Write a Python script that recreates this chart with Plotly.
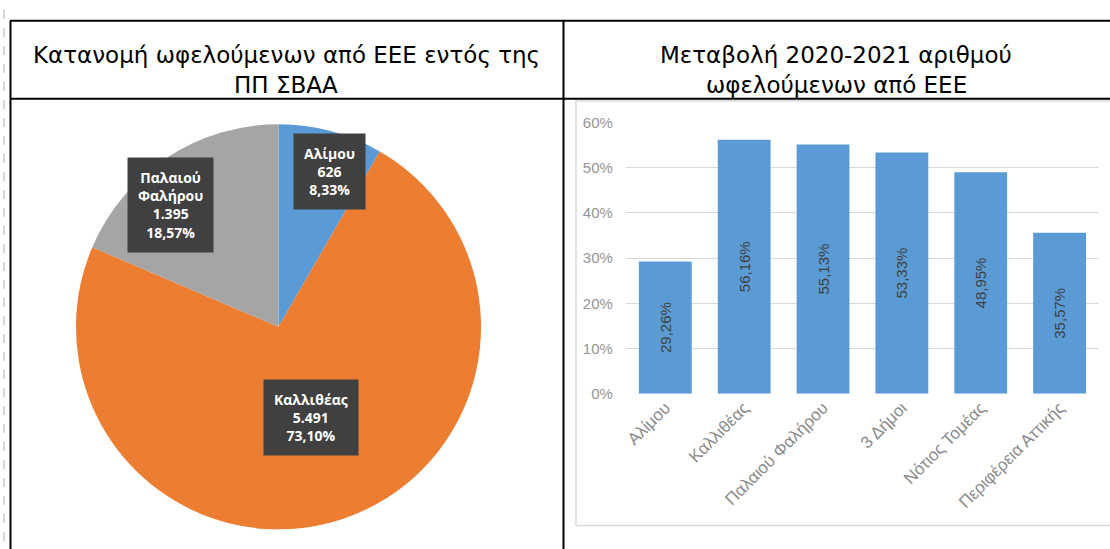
import plotly.graph_objects as go

W, H = 1110, 549

# ---- data ----
pie_labels = ["Αλίμου", "Καλλιθέας", "Παλαιού<br>Φαλήρου"]
pie_values = [626, 5491, 1395]
pie_colors = ["#5B9BD5", "#ED7D31", "#A5A5A5"]

bar_categories = ["Αλίμου", "Καλλιθέας", "Παλαιού Φαλήρου", "3 Δήμοι", "Νότιος Τομέας", "Περιφέρεια Αττικής"]
bar_values = [0.2926, 0.5616, 0.5513, 0.5333, 0.4895, 0.3557]

y_ticks = [0, 0.1, 0.2, 0.3, 0.4, 0.5, 0.6]

header_left = ["Κατανομή ωφελούμενων από ΕΕΕ εντός της", "ΠΠ ΣΒΑΑ"]
header_right = ["Μεταβολή 2020-2021 αριθμού", "ωφελούμενων από ΕΕΕ"]


def px(x):
    return x / W


def py(y):
    return 1 - y / H


fig = go.Figure()

# pie
fig.add_trace(go.Pie(
    labels=pie_labels, values=pie_values, sort=False, direction="clockwise", rotation=0,
    marker=dict(colors=pie_colors, line=dict(width=0)),
    textinfo="none", hoverinfo="label+value+percent", showlegend=False,
    domain=dict(x=[px(72), px(482)], y=[py(537), py(119)]),
))

# bars
fig.add_trace(go.Bar(
    x=bar_categories, y=bar_values, marker=dict(color="#5B9BD5", line=dict(width=0)),
    texttemplate="%{y:.2%}", textposition="inside", insidetextanchor="middle",
    textangle=-90, textfont=dict(color="#404040", size=15, family="Liberation Sans"),
    showlegend=False, width=0.67,
))

fig.update_layout(
    width=W, height=H, margin=dict(l=0, r=0, t=0, b=0),
    paper_bgcolor="white", plot_bgcolor="rgba(0,0,0,0)",
    separators=",.",
    xaxis=dict(domain=[px(625), px(1099)], range=[-0.5, 5.5], tickangle=-45,
               tickfont=dict(color="#8a8a8a", size=17, family="Liberation Sans"),
               showgrid=False, zeroline=False, showline=False, ticks=""),
    yaxis=dict(domain=[py(397), py(117)], range=[0, 0.6], tickvals=y_ticks, tickformat=".0%",
               tickfont=dict(color="#959595", size=15, family="Liberation Sans"),
               gridcolor="#d9d9d9", gridwidth=1, zeroline=False, showline=False, ticks="",
               ticklabelstandoff=12),
)

shapes = []
# page dashed margin line
shapes.append(dict(type="line", xref="paper", yref="paper", x0=px(2), x1=px(2), y0=0, y1=1,
                   line=dict(color="#b0b0b0", width=1, dash="dash")))
# bar chart frame
shapes.append(dict(type="rect", xref="paper", yref="paper", x0=px(575), x1=px(1115), y0=py(533), y1=py(95),
                   line=dict(color="#d9d9d9", width=1.5), layer="below"))
# table borders
for (x0, y0, x1, y1) in [(8, 12, 1112, 12), (8, 92.5, 1112, 92.5), (8.5, 12, 8.5, 560), (562.5, 12, 562.5, 560)]:
    shapes.append(dict(type="line", xref="paper", yref="paper", x0=px(x0), x1=px(x1), y0=py(y0), y1=py(y1),
                       line=dict(color="black", width=2)))
fig.update_layout(shapes=shapes)

ann = []
hfont = dict(family="DejaVu Sans", size=23, color="black")
for i, t in enumerate(header_left):
    ann.append(dict(text=t, x=px(285), y=py(47 + 31 * i), xref="paper", yref="paper", showarrow=False,
                    font=hfont, xanchor="center", yanchor="middle"))
for i, t in enumerate(header_right):
    ann.append(dict(text=t, x=px(836), y=py(47 + 31 * i), xref="paper", yref="paper", showarrow=False,
                    font=hfont, xanchor="center", yanchor="middle"))

# pie data labels (dark boxes)
total = sum(pie_values)
label_pos = [(328, 168), (310, 422), (169, 202)]
for lab, v, (lx, ly) in zip(pie_labels, pie_values, label_pos):
    pct = f"{100 * v / total:.2f}".replace(".", ",") + "%"
    val = f"{v:,}".replace(",", ".")
    ann.append(dict(text=f"<b>{lab}<br>{val}<br>{pct}</b>", x=px(lx), y=py(ly), xref="paper", yref="paper",
                    showarrow=False, bgcolor="#404040", borderpad=10, align="center",
                    font=dict(family="Open Sans", size=14, color="white"),
                    xanchor="center", yanchor="middle"))
fig.update_layout(annotations=ann)

fig.write_html("out.html", config={"displayModeBar": False},
               post_script="document.body.style.margin='0';document.body.style.overflow='hidden';")
